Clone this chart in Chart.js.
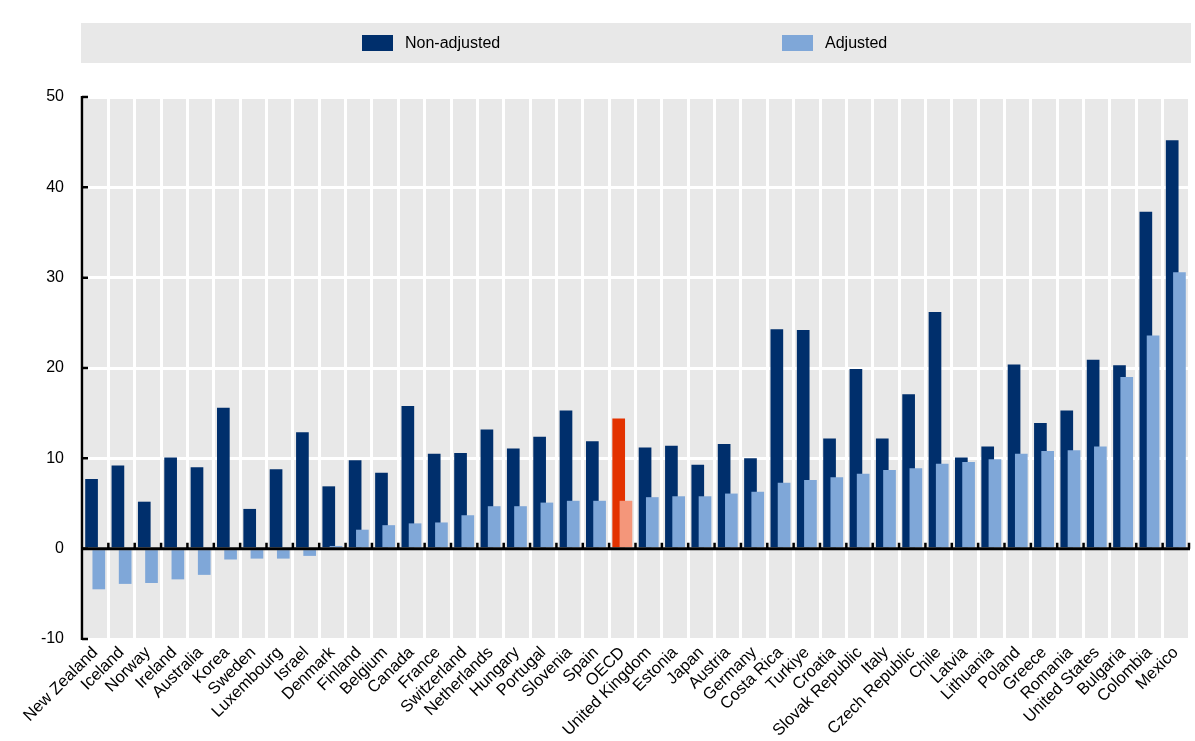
<!DOCTYPE html>
<html>
<head>
<meta charset="utf-8">
<script src="https://cdn.jsdelivr.net/npm/chart.js@4.4.1/dist/chart.umd.min.js"></script>
<style>
  body { margin: 0; background: #fff; }
  #wrap { width: 1195px; height: 741px; position: relative; }
</style>
</head>
<body>
<div id="wrap"><canvas id="gap"></canvas></div>
<script>
const countries = [
  "New Zealand", "Iceland", "Norway", "Ireland", "Australia", "Korea", "Sweden",
  "Luxembourg", "Israel", "Denmark", "Finland", "Belgium", "Canada", "France",
  "Switzerland", "Netherlands", "Hungary", "Portugal", "Slovenia", "Spain", "OECD",
  "United Kingdom", "Estonia", "Japan", "Austria", "Germany", "Costa Rica", "Turkiye",
  "Croatia", "Slovak Republic", "Italy", "Czech Republic", "Chile", "Latvia",
  "Lithuania", "Poland", "Greece", "Romania", "United States", "Bulgaria",
  "Colombia", "Mexico"
];
const nonAdjusted = [
  7.7, 9.2, 5.2, 10.1, 9.0, 15.6, 4.4, 8.8, 12.9, 6.9, 9.8, 8.4, 15.8, 10.5,
  10.6, 13.2, 11.1, 12.4, 15.3, 11.9, 14.4, 11.2, 11.4, 9.3, 11.6, 10.0, 24.3, 24.2,
  12.2, 19.9, 12.2, 17.1, 26.2, 10.1, 11.3, 20.4, 13.9, 15.3, 20.9, 20.3, 37.3, 45.2
];
const adjusted = [
  -4.5, -3.9, -3.8, -3.4, -2.9, -1.2, -1.1, -1.1, -0.8, 0.3, 2.1, 2.6, 2.8, 2.9,
  3.7, 4.7, 4.7, 5.1, 5.3, 5.3, 5.3, 5.7, 5.8, 5.8, 6.1, 6.3, 7.3, 7.6,
  7.9, 8.3, 8.7, 8.9, 9.4, 9.6, 9.9, 10.5, 10.8, 10.9, 11.3, 19.0, 23.6, 30.6
];
const yTicks = [-10, 0, 10, 20, 30, 40, 50];
const seriesNames = ["Non-adjusted", "Adjusted"];

const DARK = "#002f6c", LIGHT = "#7fa7d8";
const OECD_DARK = "#e33200", OECD_LIGHT = "#f4967a";
const FONT = "'Liberation Sans', Arial, sans-serif";

// highlight the OECD average
const darkColors = countries.map(c => c === "OECD" ? OECD_DARK : DARK);
const lightColors = countries.map(c => c === "OECD" ? OECD_LIGHT : LIGHT);

// grey plot background + legend strip
const backdrop = {
  id: "backdrop",
  beforeDraw(chart) {
    const { ctx, chartArea: a } = chart;
    ctx.save();
    ctx.fillStyle = "#e8e8e8";
    ctx.fillRect(a.left, a.top, a.right - a.left, a.bottom - a.top);
    ctx.fillRect(a.left - 1, 23, a.right - a.left + 3, 40);

    const items = [
      { x: 362, color: DARK, text: seriesNames[0] },
      { x: 782, color: LIGHT, text: seriesNames[1] }
    ];
    ctx.font = "16px " + FONT;
    ctx.textBaseline = "middle";
    items.forEach(it => {
      ctx.fillStyle = it.color;
      ctx.fillRect(it.x, 35, 31, 16);
      ctx.fillStyle = "#000";
      ctx.fillText(it.text, it.x + 43, 44);
    });
    ctx.restore();
  }
};

// the adjusted bars sit on top of the non-adjusted ones in the original,
// so hold them back and draw them after the others
const adjustedOnTop = {
  id: "adjustedOnTop",
  beforeDatasetDraw(chart, args) {
    if (args.index === 1) return false;
  },
  afterDatasetsDraw(chart) {
    chart.getDatasetMeta(1).controller.draw();
  }
};

// black axis line, inward ticks and zero line
const axes = {
  id: "axes",
  afterDatasetsDraw(chart) {
    const { ctx, chartArea: a, scales: { x, y } } = chart;
    ctx.save();
    ctx.strokeStyle = "#000";
    ctx.lineWidth = 2.5;
    ctx.beginPath();
    ctx.moveTo(a.left, a.top - 1);
    ctx.lineTo(a.left, a.bottom + 1);
    yTicks.forEach(v => {
      const py = y.getPixelForValue(v);
      ctx.moveTo(a.left, py);
      ctx.lineTo(a.left + 6, py);
    });
    ctx.stroke();

    const y0 = y.getPixelForValue(0);
    ctx.lineWidth = 3;
    ctx.beginPath();
    ctx.moveTo(a.left, y0);
    ctx.lineTo(a.right + 1, y0);
    ctx.stroke();

    ctx.lineWidth = 2.5;
    ctx.beginPath();
    for (let i = 1; i <= countries.length; i++) {
      const px = x.getPixelForValue(i - 0.5);
      ctx.moveTo(px, y0);
      ctx.lineTo(px, y0 - 6);
    }
    ctx.stroke();
    ctx.restore();
  }
};

new Chart(document.getElementById("gap"), {
  type: "bar",
  data: {
    labels: countries,
    datasets: [
      { label: seriesNames[0], data: nonAdjusted, backgroundColor: darkColors },
      { label: seriesNames[1], data: adjusted, backgroundColor: lightColors }
    ]
  },
  options: {
    responsive: true,
    maintainAspectRatio: false,
    animation: false,
    categoryPercentage: 0.55,
    barPercentage: 1.75,
    layout: { padding: { top: 97, right: 6, left: 0, bottom: 0 } },
    plugins: {
      legend: { display: false },
      tooltip: { enabled: false }
    },
    scales: {
      x: {
        offset: true,
        grid: { color: "#fff", lineWidth: 3, drawTicks: false, offset: true },
        border: { display: false },
        ticks: {
          color: "#000",
          font: { family: FONT, size: 16.5 },
          maxRotation: 45,
          minRotation: 45,
          autoSkip: false,
          padding: 4
        },
        afterFit(scale) { scale.height = 102; }
      },
      y: {
        min: -10,
        max: 50,
        grid: { color: "#fff", lineWidth: 3, drawTicks: false },
        border: { display: false },
        ticks: {
          stepSize: 10,
          color: "#000",
          font: { family: FONT, size: 16 },
          padding: 18
        },
        afterFit(scale) { scale.width = 82; }
      }
    }
  },
  plugins: [backdrop, adjustedOnTop, axes]
});
</script>
</body>
</html>
